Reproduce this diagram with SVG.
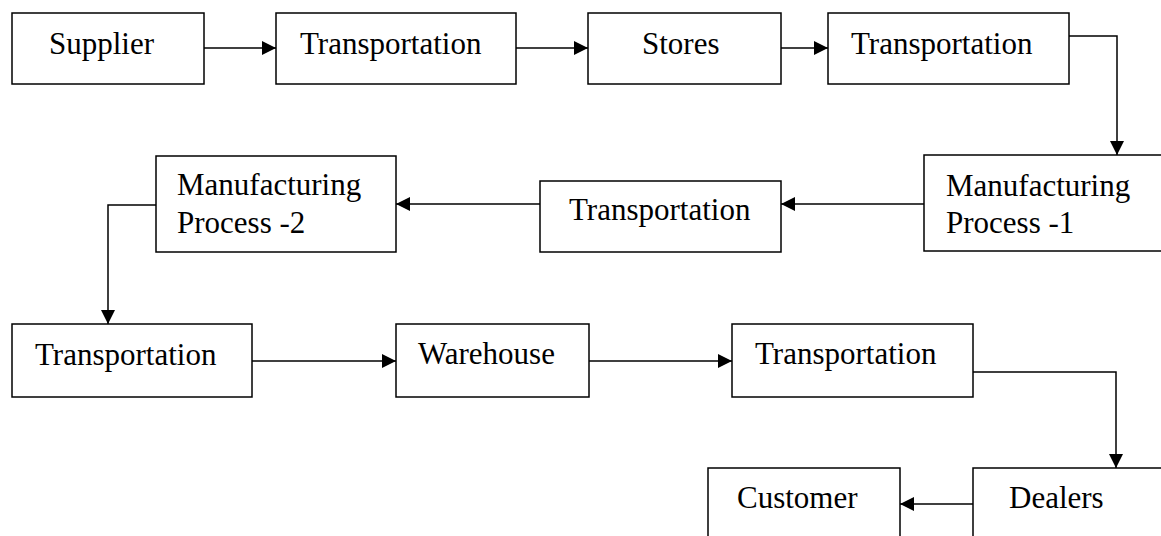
<svg xmlns="http://www.w3.org/2000/svg" width="1161" height="536" viewBox="0 0 1161 536">
<style>
.box{fill:#fff;stroke:#000;stroke-width:1.5}
.lbl{font-family:"Liberation Serif","Times New Roman",serif;font-size:31px;fill:#000}
.con{fill:none;stroke:#000;stroke-width:1.5;marker-end:url(#ah)}
</style>
<defs>
<marker id="ah" markerUnits="userSpaceOnUse" markerWidth="15" markerHeight="14" refX="14" refY="7" orient="auto" viewBox="0 0 15 14">
<path d="M0,0 L14,7 L0,14 z" fill="#000"/>
</marker>
</defs>
<rect width="1161" height="536" fill="#fff"/>
<g id="connectors">
<path class="con" d="M204,48 H276"/>
<path class="con" d="M516,48 H588"/>
<path class="con" d="M781,48 H828"/>
<path class="con" d="M1069,36 H1117 V155"/>
<path class="con" d="M924,204 H781"/>
<path class="con" d="M540,204 H396"/>
<path class="con" d="M156,205 H108 V324"/>
<path class="con" d="M252,361 H396"/>
<path class="con" d="M589,361 H732"/>
<path class="con" d="M973,372 H1116 V468"/>
<path class="con" d="M973,504 H900"/>
</g>
<g id="supplier"><rect class="box" x="12" y="13" width="192" height="71"/><text class="lbl" x="49" y="54">Supplier</text></g>
<g id="transport1"><rect class="box" x="276" y="13" width="240" height="71"/><text class="lbl" x="300" y="54">Transportation</text></g>
<g id="stores"><rect class="box" x="588" y="13" width="193" height="71"/><text class="lbl" x="642" y="54">Stores</text></g>
<g id="transport2"><rect class="box" x="828" y="13" width="241" height="71"/><text class="lbl" x="851" y="54">Transportation</text></g>
<g id="mp1"><rect class="box" x="924" y="155" width="260" height="96"/><text class="lbl" x="946" y="196">Manufacturing</text><text class="lbl" x="946" y="233">Process -1</text></g>
<g id="transport3"><rect class="box" x="540" y="181" width="241" height="71"/><text class="lbl" x="569" y="220">Transportation</text></g>
<g id="mp2"><rect class="box" x="156" y="156" width="240" height="96"/><text class="lbl" x="177" y="195">Manufacturing</text><text class="lbl" x="177" y="233">Process -2</text></g>
<g id="transport4"><rect class="box" x="12" y="324" width="240" height="73"/><text class="lbl" x="35" y="365">Transportation</text></g>
<g id="warehouse"><rect class="box" x="396" y="324" width="193" height="73"/><text class="lbl" x="418" y="364">Warehouse</text></g>
<g id="transport5"><rect class="box" x="732" y="324" width="241" height="73"/><text class="lbl" x="755" y="364">Transportation</text></g>
<g id="dealers"><rect class="box" x="973" y="468" width="220" height="100"/><text class="lbl" x="1009" y="508">Dealers</text></g>
<g id="customer"><rect class="box" x="708" y="468" width="192" height="100"/><text class="lbl" x="737" y="508">Customer</text></g>
</svg>
